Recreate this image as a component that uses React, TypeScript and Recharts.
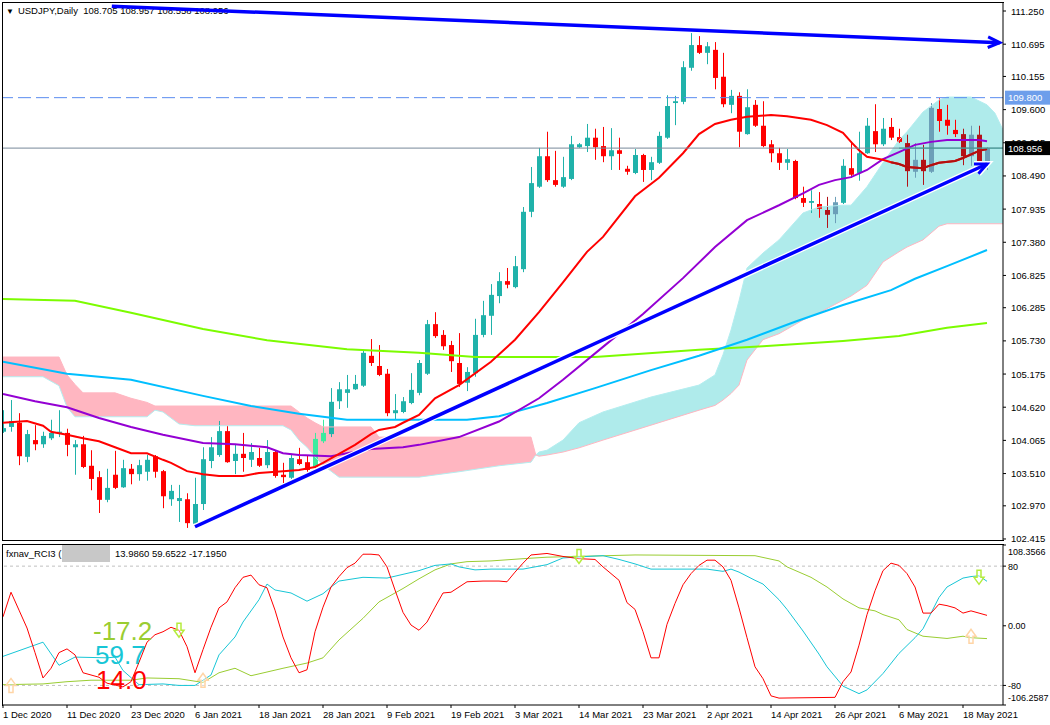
import React from 'react'
import {
	Area,
	Bar,
	ComposedChart,
	Line,
	ReferenceDot,
	ReferenceLine,
	XAxis,
	YAxis
} from 'recharts'

const FONT = "'Liberation Sans', Arial, sans-serif"

// USDJPY daily candles, bar 0 = 1 Dec 2020
const opens = [
	104.21, 104.29, 104.36, 103.79, 104.07, 104.0, 104.1, 104.19, 104.19, 103.95,
	104.0, 103.64, 103.45, 103.07, 103.49, 103.28, 103.59, 103.5, 103.54, 103.8,
	103.55, 103.08, 103.05, 103.08, 102.67, 103.0, 103.72, 103.82, 104.22, 103.72,
	103.84, 103.74, 103.77, 103.65, 103.87, 103.49, 103.44, 103.75, 103.7, 103.62,
	104.05, 104.17, 104.72, 104.86, 104.92, 104.98, 105.48, 105.31, 105.18, 104.52,
	104.54, 104.69, 104.86, 105.18, 106.01, 105.83, 105.66, 105.36, 105.03, 105.19,
	105.83, 106.15, 106.48, 106.73, 106.63, 106.93, 107.89, 108.31, 108.82, 108.42,
	108.31, 108.44, 108.97, 108.99, 109.13, 108.99, 108.82, 108.92, 108.61, 108.54,
	108.84, 108.59, 108.71, 109.13, 109.71, 109.73, 110.3, 110.68, 110.55, 110.6,
	110.15, 109.68, 109.83, 109.19, 109.68, 109.33, 109.02, 108.87, 108.71, 108.74,
	108.12, 108.04, 108.02, 107.92, 107.85, 108.04, 108.62, 108.54, 108.87, 109.24,
	109.02, 109.31, 109.14, 109.04, 108.56, 108.76, 108.56, 109.61, 109.43, 109.26,
	109.19, 108.82, 109.18, 108.705
]
const highs = [
	104.57, 104.74, 104.52, 104.24, 104.32, 104.21, 104.41, 104.57, 104.26, 104.07,
	104.14, 103.9, 103.55, 103.59, 103.89, 103.74, 103.67, 103.74, 103.82, 103.82,
	103.57, 103.32, 103.32, 103.18, 103.44, 103.95, 104.12, 104.39, 104.31, 103.99,
	104.19, 104.02, 103.94, 104.07, 103.9, 103.69, 103.82, 103.94, 103.82, 104.19,
	104.41, 104.94, 105.04, 105.16, 105.16, 105.58, 105.76, 105.66, 105.26, 104.84,
	104.79, 105.19, 105.41, 106.08, 106.21, 105.91, 105.73, 105.86, 105.29, 106.1,
	106.4, 106.68, 106.88, 106.95, 107.15, 107.97, 108.64, 108.96, 109.23, 108.91,
	108.81, 109.16, 109.04, 109.36, 109.28, 109.31, 109.29, 109.13, 108.66, 108.94,
	108.86, 108.81, 109.23, 109.84, 109.83, 110.41, 110.88, 110.83, 110.73, 110.73,
	110.55, 109.93, 109.89, 109.94, 109.76, 109.74, 109.09, 108.96, 108.94, 108.76,
	108.31, 108.25, 108.22, 108.14, 108.14, 108.77, 109.07, 109.23, 109.46, 109.69,
	109.46, 109.46, 109.28, 109.18, 109.04, 109.01, 109.71, 109.79, 109.68, 109.43,
	109.28, 109.33, 109.33, 108.97
]
const lows = [
	104.19, 104.21, 103.65, 103.7, 103.9, 103.94, 104.07, 104.12, 103.8, 103.49,
	103.6, 103.23, 102.85, 103.03, 103.25, 103.27, 103.33, 103.39, 103.39, 103.44,
	102.93, 102.97, 102.7, 102.6, 102.62, 102.9, 103.6, 103.79, 103.69, 103.5,
	103.54, 103.62, 103.62, 103.6, 103.44, 103.35, 103.42, 103.65, 103.54, 103.6,
	104.02, 104.12, 104.59, 104.61, 104.91, 104.96, 105.31, 105.14, 104.47, 104.41,
	104.52, 104.67, 104.82, 105.16, 105.78, 105.58, 105.21, 104.96, 104.89, 105.13,
	105.79, 105.83, 106.36, 106.61, 106.61, 106.88, 107.8, 108.29, 108.39, 108.31,
	108.29, 108.42, 108.96, 108.89, 108.76, 108.72, 108.59, 108.59, 108.51, 108.52,
	108.39, 108.42, 108.69, 109.11, 109.34, 109.69, 110.25, 110.53, 110.36, 109.94,
	109.64, 109.54, 108.97, 109.18, 109.31, 108.97, 108.72, 108.59, 108.59, 108.1,
	107.97, 107.87, 107.79, 107.62, 107.7, 108.02, 108.46, 108.41, 108.86, 108.89,
	108.99, 109.09, 109.04, 108.31, 108.46, 108.34, 108.54, 109.23, 109.18, 109.14,
	108.67, 108.66, 108.72, 108.59
]
const closes = [
	104.27, 104.39, 103.8, 104.17, 104.0, 104.14, 104.19, 104.21, 103.99, 104.0,
	103.62, 103.42, 103.07, 103.27, 103.27, 103.6, 103.5, 103.65, 103.74, 103.54,
	103.13, 103.22, 103.1, 102.68, 103.0, 103.75, 103.95, 104.22, 103.7, 103.84,
	103.77, 103.87, 103.64, 103.87, 103.47, 103.45, 103.77, 103.67, 103.57, 104.09,
	104.19, 104.71, 104.92, 104.92, 105.01, 105.53, 105.36, 105.16, 104.52, 104.57,
	104.72, 104.91, 105.36, 106.01, 105.81, 105.64, 105.39, 105.01, 105.21, 105.83,
	106.16, 106.5, 106.73, 106.67, 106.98, 107.89, 108.37, 108.82, 108.42, 108.34,
	108.47, 109.02, 109.02, 109.13, 108.97, 108.82, 108.92, 108.86, 108.56, 108.84,
	108.59, 108.72, 109.16, 109.66, 109.74, 110.31, 110.68, 110.55, 110.66, 110.13,
	109.69, 109.83, 109.23, 109.64, 109.33, 108.99, 108.87, 108.71, 108.77, 108.12,
	108.04, 108.07, 107.94, 107.84, 108.05, 108.66, 108.51, 108.87, 109.33, 109.02,
	109.28, 109.13, 109.06, 108.57, 108.76, 108.57, 109.63, 109.41, 109.33, 109.19,
	108.82, 109.18, 108.74, 108.956
]

const dateTicks = [0, 8, 16, 24, 32, 40, 48, 56, 64, 72, 80, 88, 96, 104, 112, 120]
const dateLabels = [
	'1 Dec 2020', '11 Dec 2020', '23 Dec 2020', '6 Jan 2021', '18 Jan 2021', '28 Jan 2021',
	'9 Feb 2021', '19 Feb 2021', '3 Mar 2021', '14 Mar 2021', '23 Mar 2021', '2 Apr 2021',
	'14 Apr 2021', '26 Apr 2021', '6 May 2021', '18 May 2021'
]
const priceTicks = [
	111.25, 110.695, 110.155, 109.6, 109.045, 108.49, 107.935, 107.38, 106.825,
	106.285, 105.73, 105.175, 104.62, 104.065, 103.51, 102.97, 102.415
]
const rciTicks = [108.3566, 80, 0, -80, -106.2587]
const rciTickLabels = ['108.3566', '80', '0.00', '-80', '-106.2587']

// moving averages: [bar, price]
const maFast = [
	[0, 104.36], [3, 104.39], [5, 104.31], [6, 104.21], [8, 104.16], [10, 104.1], [12, 104.05],
	[14, 103.95], [16, 103.85], [18, 103.85], [20, 103.74], [21, 103.69], [23, 103.55], [25, 103.5],
	[27, 103.47], [30, 103.47], [32, 103.52], [35, 103.55], [37, 103.57], [39, 103.62], [40, 103.69],
	[42, 103.84], [44, 103.99], [46, 104.17], [47, 104.24], [49, 104.29], [50, 104.36], [52, 104.49],
	[54, 104.77], [57, 104.99], [61, 105.38], [64, 105.75], [67, 106.21], [70, 106.71], [73, 107.22],
	[75, 107.47], [79, 108.15], [82, 108.46], [85, 108.87], [87, 109.19], [89, 109.36], [91, 109.43],
	[93, 109.48], [96, 109.51], [98, 109.49], [101, 109.43], [103, 109.34], [105, 109.21],
	[106, 109.06], [107, 108.92], [108, 108.81], [110, 108.76], [111, 108.72], [112, 108.69],
	[113, 108.64], [115, 108.62], [116, 108.67], [117, 108.71], [119, 108.74], [120, 108.79],
	[122, 108.91], [123, 108.94]
]
const maMid = [
	[0, 104.84], [4, 104.72], [8, 104.62], [12, 104.44], [16, 104.29], [20, 104.16], [25, 104.02],
	[29, 104.0], [33, 103.95], [35, 103.85], [37, 103.82], [41, 103.8], [43, 103.85], [46, 103.92],
	[50, 103.95], [52, 103.99], [57, 104.12], [62, 104.38], [67, 104.77], [70, 105.08], [75, 105.63],
	[80, 106.18], [85, 106.78], [89, 107.3], [93, 107.75], [97, 108.0], [100, 108.2], [102, 108.34],
	[104, 108.42], [106, 108.47], [108, 108.59], [110, 108.77], [112, 108.89], [114, 109.01],
	[116, 109.06], [118, 109.09], [122, 109.09], [123, 109.07]
]
const maSlow = [
	[0, 105.38], [8, 105.18], [16, 105.08], [25, 104.81], [31, 104.64], [37, 104.51], [43, 104.41],
	[52, 104.41], [58, 104.41], [62, 104.47], [68, 104.69], [74, 104.94], [81, 105.24], [87, 105.48],
	[93, 105.75], [99, 106.05], [105, 106.33], [111, 106.58], [114, 106.77], [118, 106.98],
	[123, 107.25]
]
const maLong = [
	[0, 106.43], [9, 106.4], [16, 106.2], [25, 105.93], [33, 105.74], [43, 105.59], [52, 105.53],
	[59, 105.46], [74, 105.46], [87, 105.58], [95, 105.64], [105, 105.73], [112, 105.81],
	[118, 105.95], [123, 106.03]
]

// ichimoku cloud (already shifted forward)
const cloudBars = [
	0, 5, 7, 8, 9, 10, 14, 16, 18, 19, 20, 22, 24, 35, 36, 37, 38, 39, 40, 42, 46, 47, 52, 57, 62,
	66, 66.6, 67, 68, 70, 72, 75, 81, 87, 89, 90, 91, 92, 93, 95, 97, 100, 102, 105, 106, 108, 110,
	112, 113, 115, 117, 118, 121, 123, 124, 125
]
const spanA = [
	105.13, 105.13, 104.98, 104.62, 104.46, 104.46, 104.46, 104.46, 104.46, 104.57, 104.54, 104.34,
	104.31, 104.31, 104.24, 104.07, 103.95, 103.79, 103.65, 103.45, 103.45, 103.45, 103.45, 103.54,
	103.64, 103.7, 103.82, 103.87, 103.9, 104.07, 104.36, 104.54, 104.79, 104.99, 105.16, 105.5,
	105.91, 106.4, 106.95, 107.2, 107.42, 107.87, 107.97, 108.0, 108.0, 108.31, 108.71, 109.09,
	109.23, 109.56, 109.76, 109.81, 109.81, 109.68, 109.54, 109.26
]
const spanB = [
	105.46, 105.46, 105.46, 105.16, 105.0, 104.86, 104.86, 104.77, 104.7, 104.64, 104.64, 104.64,
	104.64, 104.64, 104.64, 104.54, 104.44, 104.36, 104.29, 104.29, 104.29, 104.12, 104.12, 104.12,
	104.12, 104.12, 103.82, 103.8, 103.82, 103.87, 103.94, 104.07, 104.32, 104.57, 104.65, 104.74,
	104.85, 104.99, 105.41, 105.75, 105.85, 106.08, 106.2, 106.41, 106.48, 106.66, 107.05, 107.22,
	107.3, 107.42, 107.65, 107.69, 107.69, 107.69, 107.69, 107.69
]

const targetLevel = 109.8
const lastPrice = 108.956
const supportLine = [[24, 102.62], [123, 108.69]]
const resistanceLine = [[13.6, 111.33], [124.6, 110.72]]

// RCI 3 lines: [bar, value]
const rciShort = [
	[0, 12], [1, 45], [2, 21], [3, -3], [4, -36], [5, -70], [6, -57], [7, -36], [8, -31], [9, -39],
	[10, -63], [11, -66], [12, -69], [13, -77], [15, -82], [16, -75], [17, -49], [18, -22], [19, -12],
	[20, -8], [21, -2], [22, -6], [23, -28], [24, -63], [25, -32], [26, -2], [27, 24], [28, 32],
	[29, 51], [30, 65], [31, 68], [32, 55], [33, 51], [34, 21], [35, -15], [36, -43], [37, -63],
	[38, -59], [39, -8], [40, 25], [41, 52], [42, 66], [43, 78], [44, 84], [45, 96], [46, 96],
	[47, 95], [48, 79], [49, 48], [50, 18], [51, 1], [52, -6], [53, 5], [54, 25], [55, 44], [56, 45],
	[57, 52], [58, 59], [60, 60], [62, 60], [63, 59], [64, 72], [65, 84], [66, 95], [68, 97],
	[70, 93], [72, 90], [74, 89], [75, 79], [77, 61], [78, 31], [79, 22], [80, -8], [81, -43],
	[82, -43], [83, 2], [84, 30], [85, 55], [86, 70], [87, 81], [88, 88], [89, 88], [90, 79],
	[91, 61], [92, 24], [93, -16], [94, -55], [95, -71], [96, -94], [97, -97], [104, -96],
	[105, -75], [106, -62], [107, -26], [108, 15], [109, 47], [110, 74], [111, 84], [112, 81],
	[113, 70], [114, 52], [115, 17], [116, 17], [117, 29], [118, 27], [119, 24], [120, 17],
	[121, 20], [122, 17], [123, 13.99]
]
const rciMid = [
	[0, -41], [5, -22], [7, -53], [9, -42], [13, -43], [14, -42], [15, -60], [17, -79], [20, -78],
	[22, -80], [24, -80], [26, -66], [27, -39], [29, -15], [30, 5], [32, 35], [33, 56], [34, 48],
	[36, 44], [38, 33], [40, 43], [41, 52], [42, 60], [45, 65], [48, 64], [50, 69], [52, 74],
	[54, 81], [56, 83], [57, 79], [59, 75], [61, 76], [65, 76], [68, 82], [70, 91], [73, 93],
	[75, 94], [77, 89], [79, 83], [81, 76], [86, 76], [88, 76], [90, 73], [91, 76], [92, 72],
	[94, 61], [95, 56], [97, 35], [98, 22], [100, -7], [102, -38], [103, -55], [105, -81],
	[107, -91], [108, -86], [110, -64], [112, -37], [114, -16], [115, -4], [117, 38], [118, 52],
	[120, 64], [121, 66], [122, 67], [123, 59.65]
]
const rciLong = [
	[0, -79], [5, -78], [8, -75], [11, -73], [16, -73], [18, -70], [22, -71], [25, -76], [27, -63],
	[29, -57], [31, -67], [33, -62], [35, -57], [38, -50], [40, -43], [42, -19], [45, 10], [47, 32],
	[50, 50], [52, 63], [54, 75], [56, 83], [58, 86], [61, 87], [65, 90], [68, 92], [79, 95],
	[94, 94], [97, 87], [98, 79], [101, 65], [103, 52], [105, 36], [107, 24], [109, 20], [110, 15],
	[112, 8], [113, -5], [115, -14], [117, -16], [118, -17], [120, -14], [121, -16], [123, -17.2]
]
const rciSignals = [
	{ i: 1, v: -80, dir: 'up' },
	{ i: 25, v: -73, dir: 'up' },
	{ i: 121, v: -14, dir: 'up' },
	{ i: 22, v: -6, dir: 'down' },
	{ i: 72, v: 93, dir: 'down' },
	{ i: 122, v: 65, dir: 'down' }
]

const candles = opens.map((o, i) => ({ i, o, h: highs[i], l: lows[i], c: closes[i] }))

const cloud = cloudBars.map((i, k) => {
	const a = spanA[k]
	const b = spanB[k]
	return { i, a, b, pink: b >= a ? [a, b] : null, cyan: a >= b ? [b, a] : null }
})

const toPoints = (rows: number[][]) => rows.map(([i, v]) => ({ i, v }))

// linear lookup, used only to pick colours where marks sit inside the cloud
function valueAt(xs: number[], ys: number[], x: number) {
	if (x <= xs[0]) return ys[0]
	for (let k = 1; k < xs.length; k++) {
		if (x <= xs[k]) {
			const t = (x - xs[k - 1]) / (xs[k] - xs[k - 1])
			return ys[k - 1] + t * (ys[k] - ys[k - 1])
		}
	}
	return ys[ys.length - 1]
}
const midXs = maMid.map((r) => r[0])
const midYs = maMid.map((r) => r[1])

const fastStart = maFast.find(
	([i, v]) => i > 90 && v < valueAt(cloudBars, spanA, i) && v > valueAt(cloudBars, spanB, i)
)
const fastInCloud = fastStart ? maFast.filter(([i]) => i >= fastStart[0]) : []
const bidInCloud = cloudBars.find((i, k) => i > 90 && spanA[k] >= lastPrice) ?? 125

function Candle(props: any) {
	const { x, y, width, height, payload } = props
	if (!payload || !Number.isFinite(y)) return null
	const { i, o, h, l, c } = payload
	const top = Math.min(y, y + height)
	const span = Math.abs(height)
	const k = h > l ? span / (h - l) : 0
	const py = (v: number) => top + (h - v) * k
	const px = Math.round(x + width / 2)
	const bull = c >= o
	const mid = (o + c) / 2
	const a = valueAt(cloudBars, spanA, i)
	const b = valueAt(cloudBars, spanB, i)
	const inCyan = a > b && mid < a && mid > b && mid < valueAt(midXs, midYs, i) + 0.05
	const inPink = b > a && mid < b && mid > a
	let col = bull ? '#20b2aa' : '#ff0000'
	if (inCyan) col = bull ? '#6c9fb8' : '#b31217'
	else if (inPink && bull) col = '#3ceb9f'
	const bt = py(Math.max(o, c))
	const bb = py(Math.min(o, c))
	return (
		<g>
			<line x1={px + 0.5} x2={px + 0.5} y1={top} y2={top + span} stroke={col} strokeWidth={1} />
			<rect x={px - 2} y={bt} width={5} height={Math.max(1, bb - bt)} fill={col} />
		</g>
	)
}

function TrendArrow(props: any) {
	const { x1, y1, x2, y2, halo } = props
	if (![x1, y1, x2, y2].every(Number.isFinite)) return null
	const ang = Math.atan2(y2 - y1, x2 - x1)
	const len = 13
	const spread = 0.42
	const head = [
		`${x2 - len * Math.cos(ang - spread)},${y2 - len * Math.sin(ang - spread)}`,
		`${x2},${y2}`,
		`${x2 - len * Math.cos(ang + spread)},${y2 - len * Math.sin(ang + spread)}`
	].join(' ')
	return (
		<g>
			{halo && <line x1={x1} y1={y1} x2={x2} y2={y2} stroke="#fff" strokeWidth={6} />}
			{halo && <polyline points={head} fill="none" stroke="#fff" strokeWidth={6} />}
			<line x1={x1} y1={y1} x2={x2} y2={y2} stroke="#0000ff" strokeWidth={3.5} />
			<polyline points={head} fill="none" stroke="#0000ff" strokeWidth={3} />
		</g>
	)
}

function PriceTag({ viewBox, text, fill }: any) {
	if (!viewBox) return null
	const x = viewBox.x + viewBox.width + 2
	const y = viewBox.y
	return (
		<g>
			<rect x={x} y={y - 7} width={45} height={14} fill={fill} />
			<text x={x + 3} y={y + 3.5} fontSize={9.5} fontFamily={FONT} fill="#fff">
				{text}
			</text>
		</g>
	)
}

function PriceTick(p: any) {
	return (
		<text x={p.x + 3} y={p.y + 3.5} fontSize={9.5} fontFamily={FONT} fill="#000">
			{Number(p.payload.value).toFixed(3)}
		</text>
	)
}

function RciTick(p: any) {
	const k = rciTicks.indexOf(p.payload.value)
	const dy = k === 0 ? 9.5 : k === rciTicks.length - 1 ? -4.5 : 3.5
	return (
		<text x={p.x} y={p.y + dy} fontSize={9} fontFamily={FONT} fill="#000">
			{rciTickLabels[k]}
		</text>
	)
}

function DateTick(p: any) {
	const k = dateTicks.indexOf(p.payload.value)
	return (
		<text x={p.x} y={p.y + 8} fontSize={9.5} fontFamily={FONT} fill="#000">
			{dateLabels[k]}
		</text>
	)
}

function SignalArrow({ cx, cy, up }: any) {
	if (!Number.isFinite(cx)) return null
	const s = up ? -1 : 1
	const pts = [[-2, -7], [2, -7], [2, 0], [5, 0], [0, 7], [-5, 0], [-2, 0]]
		.map(([dx, dy]) => `${cx + dx},${cy + dy * s}`)
		.join(' ')
	return (
		<polygon
			points={pts}
			fill="#fff"
			fillOpacity={0.4}
			stroke={up ? '#ffd5a6' : '#b5ec3c'}
			strokeWidth={1.5}
		/>
	)
}

function MainChart() {
	return (
		<ComposedChart
			width={1050}
			height={545}
			data={candles}
			margin={{ top: 3, right: 0, bottom: 5, left: 3 }}
		>
			<XAxis dataKey="i" type="number" domain={[0, 125]} allowDataOverflow hide />
			<YAxis
				orientation="right"
				width={47}
				domain={[102.398, 111.384]}
				allowDataOverflow
				ticks={priceTicks}
				interval={0}
				tickSize={3}
				tickLine={{ stroke: '#000' }}
				axisLine={{ stroke: '#000' }}
				tick={<PriceTick />}
			/>

			<Area data={cloud} dataKey="pink" type="linear" stroke="none" fill="#ffb6c1" fillOpacity={1} isAnimationActive={false} />
			<Area data={cloud} dataKey="cyan" type="linear" stroke="none" fill="#afebeb" fillOpacity={1} isAnimationActive={false} />
			<Line data={cloud} dataKey="a" stroke="#b4eef0" strokeWidth={1} dot={false} activeDot={false} isAnimationActive={false} />
			<Line data={cloud} dataKey="b" stroke="#ffb6c1" strokeWidth={1} dot={false} activeDot={false} isAnimationActive={false} />

			<Bar
				dataKey={(d: any) => [d.l, d.h]}
				barSize={5}
				shape={(p: any) => <Candle {...p} />}
				isAnimationActive={false}
			/>

			<Line data={toPoints(maLong)} dataKey="v" stroke="#7cfc00" strokeWidth={2} dot={false} activeDot={false} isAnimationActive={false} />
			<Line data={toPoints(maSlow)} dataKey="v" stroke="#00bfff" strokeWidth={2} dot={false} activeDot={false} isAnimationActive={false} />
			<Line data={toPoints(maMid)} dataKey="v" stroke="#9400d3" strokeWidth={2} dot={false} activeDot={false} isAnimationActive={false} />
			<Line data={toPoints(maFast)} dataKey="v" stroke="#ff0000" strokeWidth={2} dot={false} activeDot={false} isAnimationActive={false} />
			<Line data={toPoints(fastInCloud)} dataKey="v" stroke="#b01010" strokeWidth={2} dot={false} activeDot={false} isAnimationActive={false} />

			<ReferenceLine
				y={targetLevel}
				stroke="#5b8cf0"
				strokeDasharray="13 5"
				label={<PriceTag text="109.800" fill="#6d9eeb" />}
			/>
			<ReferenceLine
				y={lastPrice}
				stroke="#778899"
				label={<PriceTag text="108.956" fill="#000" />}
			/>
			<ReferenceLine
				segment={[{ x: bidInCloud, y: lastPrice }, { x: 125, y: lastPrice }]}
				stroke="#3a9e96"
			/>
			<ReferenceLine
				segment={[
					{ x: supportLine[0][0], y: supportLine[0][1] },
					{ x: supportLine[1][0], y: supportLine[1][1] }
				]}
				shape={(p: any) => <TrendArrow {...p} halo />}
			/>
			<ReferenceLine
				segment={[
					{ x: resistanceLine[0][0], y: resistanceLine[0][1] },
					{ x: resistanceLine[1][0], y: resistanceLine[1][1] }
				]}
				shape={(p: any) => <TrendArrow {...p} />}
			/>
		</ComposedChart>
	)
}

function RciChart() {
	return (
		<ComposedChart width={1050} height={184} margin={{ top: 4, right: 0, bottom: 0, left: 3 }}>
			<XAxis
				dataKey="i"
				type="number"
				domain={[0, 125]}
				allowDataOverflow
				ticks={dateTicks}
				interval={0}
				height={20}
				tickSize={3}
				tickLine={{ stroke: '#000' }}
				axisLine={{ stroke: '#000' }}
				tick={<DateTick />}
			/>
			<YAxis
				orientation="right"
				width={47}
				domain={[-106.2587, 108.3566]}
				allowDataOverflow
				ticks={rciTicks}
				interval={0}
				tickSize={3}
				tickLine={{ stroke: '#000' }}
				axisLine={{ stroke: '#000' }}
				tick={<RciTick />}
			/>
			<ReferenceLine y={80} stroke="#c0c0c0" strokeDasharray="3 3" />
			<ReferenceLine y={-80} stroke="#c0c0c0" strokeDasharray="3 3" />

			<Line data={toPoints(rciLong)} dataKey="v" stroke="#9acd32" strokeWidth={1} dot={false} activeDot={false} isAnimationActive={false} />
			<Line data={toPoints(rciMid)} dataKey="v" stroke="#17c6d6" strokeWidth={1} dot={false} activeDot={false} isAnimationActive={false} />
			<Line data={toPoints(rciShort)} dataKey="v" stroke="#ff0000" strokeWidth={1} dot={false} activeDot={false} isAnimationActive={false} />

			{rciSignals.map((s, k) => (
				<ReferenceDot
					key={k}
					x={s.i}
					y={s.v}
					r={0}
					shape={(p: any) => <SignalArrow cx={p.cx} cy={p.cy} up={s.dir === 'up'} />}
				/>
			))}
		</ComposedChart>
	)
}

export default function App() {
	const small = { fontFamily: FONT, fontSize: 9.5, color: '#000', lineHeight: '13px', whiteSpace: 'nowrap' as const }
	const big = { position: 'absolute' as const, fontFamily: FONT, fontSize: 26, lineHeight: '20px' }
	return (
		<div style={{ position: 'relative', width: 1050, height: 725, background: '#fff', overflow: 'hidden' }}>
			<style>{'body{margin:0}'}</style>

			<div style={{ ...small, position: 'absolute', left: 6, top: 4 }}>
				<span style={{ fontSize: 8, marginRight: 4 }}>▼</span>
				USDJPY,Daily&nbsp;&nbsp;108.705 108.957 108.558 108.956
			</div>
			<div style={{ position: 'absolute', left: 0, top: 0 }}>
				<MainChart />
			</div>
			<div
				style={{
					position: 'absolute',
					left: 2,
					top: 2,
					width: 1002,
					height: 539,
					boxSizing: 'border-box',
					borderLeft: '1px solid #000',
					borderTop: '1px solid #000',
					borderBottom: '1px solid #000',
					pointerEvents: 'none'
				}}
			/>

			<div style={{ position: 'absolute', left: 0, top: 541 }}>
				<RciChart />
			</div>
			<div
				style={{
					position: 'absolute',
					left: 2,
					top: 544,
					width: 1002,
					height: 162,
					boxSizing: 'border-box',
					borderLeft: '1px solid #000',
					borderTop: '1px solid #000',
					pointerEvents: 'none'
				}}
			/>
			<div style={{ ...small, position: 'absolute', left: 6, top: 547 }}>fxnav_RCI3 (</div>
			<div style={{ position: 'absolute', left: 62, top: 545, width: 48, height: 17, background: '#c8c8c8' }} />
			<div style={{ ...small, position: 'absolute', left: 115, top: 547 }}>13.9860 59.6522 -17.1950</div>

			<div style={{ ...big, left: 93, top: 621, color: '#9acd32' }}>-17.2</div>
			<div style={{ ...big, left: 95, top: 645, color: '#17c6d6' }}>59.7</div>
			<div style={{ ...big, left: 96, top: 670, color: '#ff0000' }}>14.0</div>
		</div>
	)
}
